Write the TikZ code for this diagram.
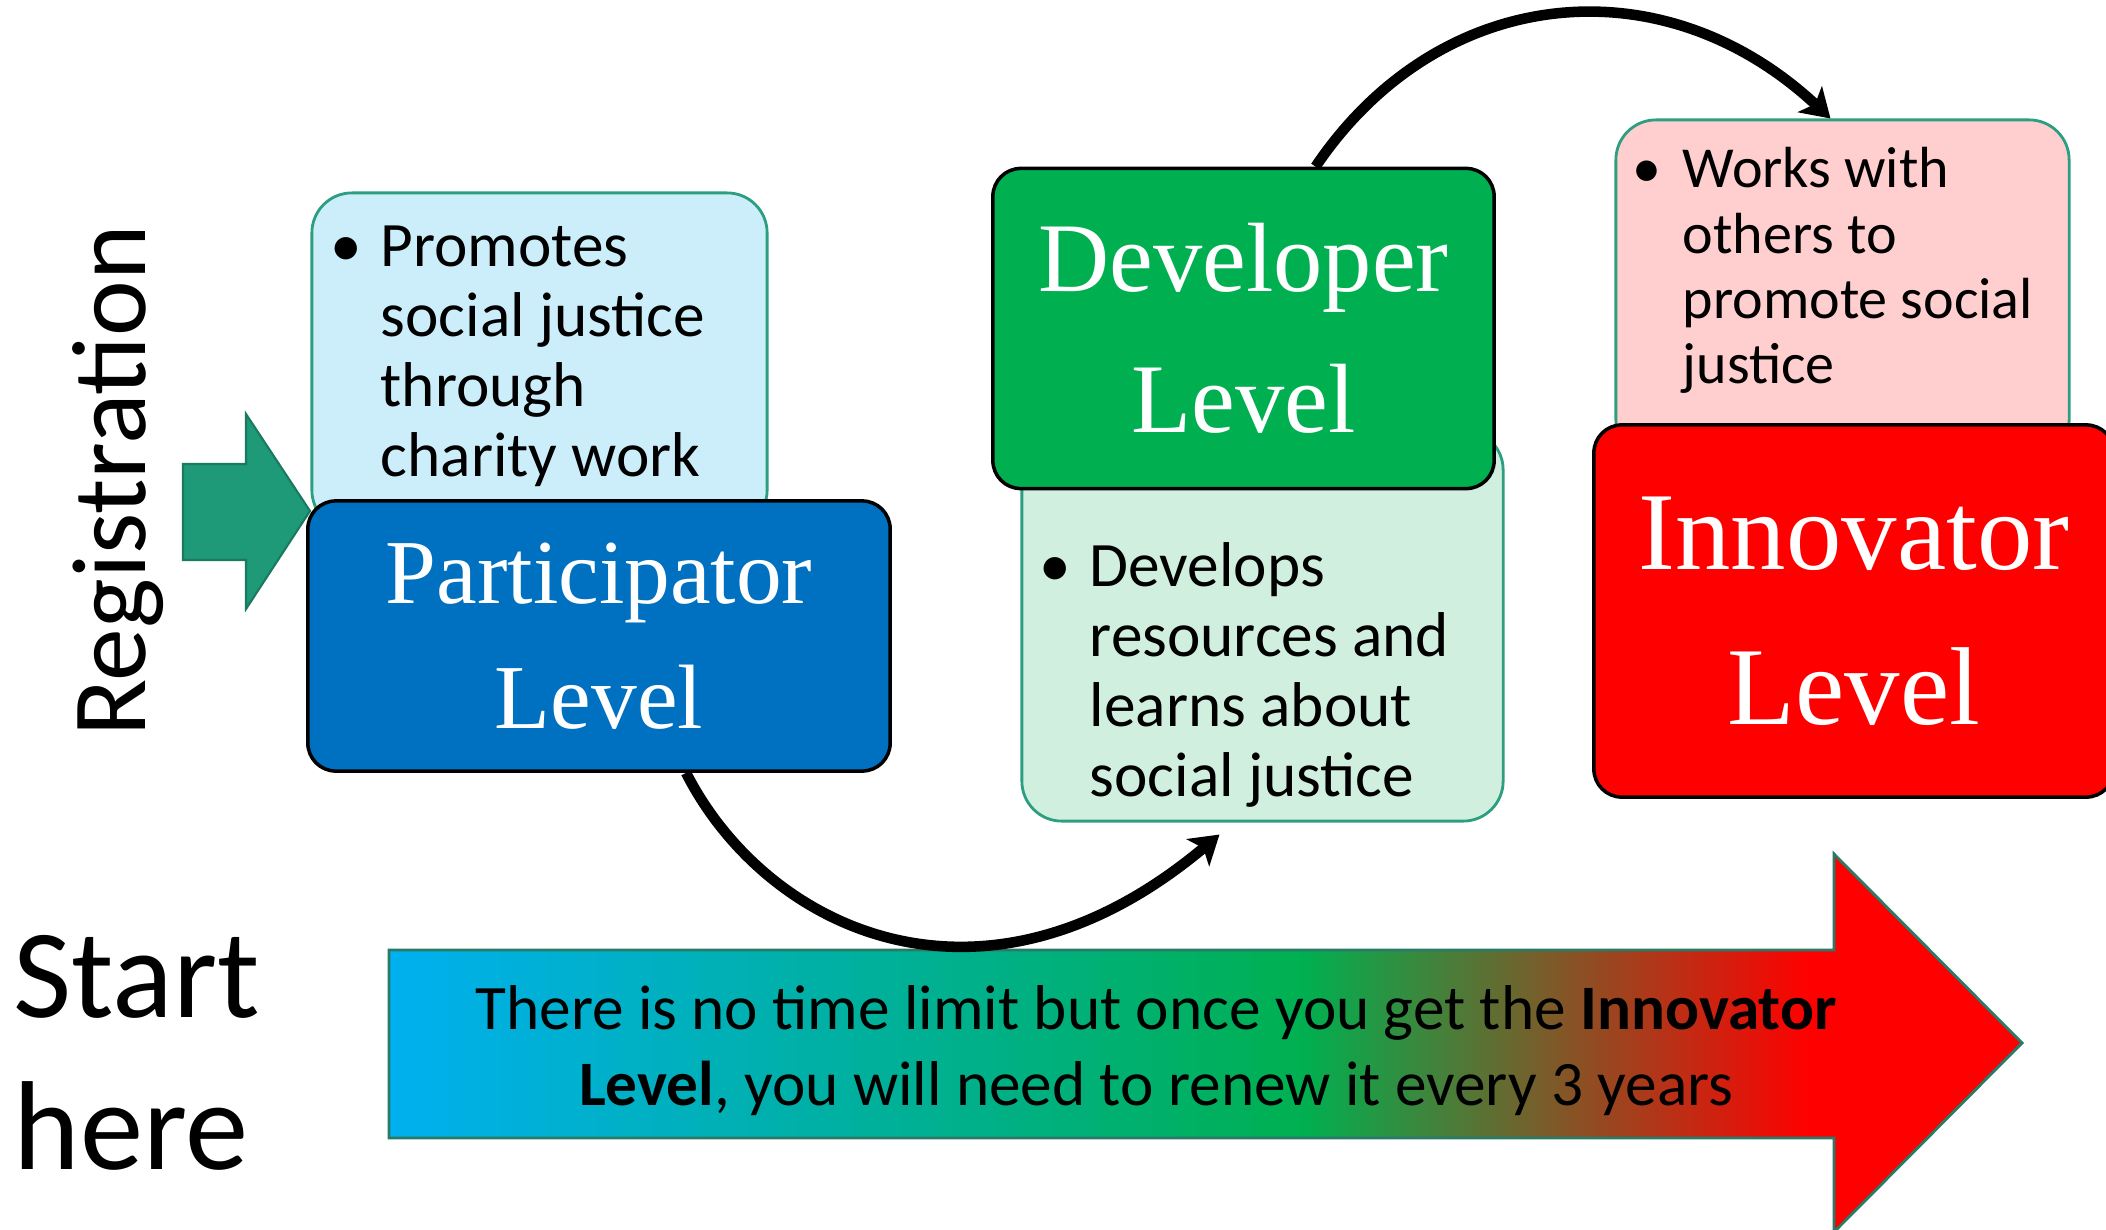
\documentclass[tikz,border=0pt]{standalone}
\usepackage{fontspec}
\setmainfont{Carlito}
\newfontfamily\lvlfont{Liberation Serif}
\usetikzlibrary{arrows.meta}

\definecolor{partblue}{HTML}{0070C0}
\definecolor{devgreen}{HTML}{00B050}
\definecolor{innored}{HTML}{FF0000}
\definecolor{promofill}{HTML}{CCEEFA}
\definecolor{devfill}{HTML}{D0EFDF}
\definecolor{innofill}{HTML}{FFCFCF}
\definecolor{noteedge}{HTML}{2E9E80}
\definecolor{regfill}{HTML}{1E9A78}
\definecolor{regedge}{HTML}{197A5F}
\definecolor{barblue}{HTML}{00B0F0}
\definecolor{baredge}{HTML}{2A7A68}

\pgfdeclarehorizontalshading{levelbar}{100bp}{color(0bp)=(barblue); color(25bp)=(barblue); color(53bp)=(devgreen); color(68.5bp)=(innored); color(100bp)=(innored)}

\tikzstyle{levelbox}=[draw=black, line width=1pt, rounded corners=2.8mm, text=white, align=center, inner sep=0pt]
\tikzstyle{notebox}=[draw=noteedge, line width=0.8pt, rounded corners=4mm]
\tikzstyle{notetext}=[anchor=north west, inner sep=0pt, align=left, font=\fontsize{18}{19.9}\selectfont]
\tikzstyle{flowarrow}=[line width=3pt, -{Stealth[length=8pt,width=10pt,inset=2pt]}]

\newcommand{\bul}{\makebox[5mm][l]{\textbullet}}
\newcommand{\ind}{\hspace*{5mm}}

\begin{document}
\begin{tikzpicture}[x=0.01cm, y=0.01cm]
            \useasboundingbox (0,0) rectangle (2106,1229);
            % participator
            \node[notebox, fill=promofill, minimum width=45.5mm, minimum height=33.7mm] at (539.5,867.5) (promobox) {};
            \node[notetext] at (330,1004) (promotext) {\bul Promotes\\\ind social justice\\\ind through\\\ind charity work};
            \node[levelbox, fill=partblue, minimum width=58.2mm, minimum height=27mm, font=\lvlfont\fontsize{26}{35.5}\selectfont] at (599,593) (part) {Participator\\Level};
            % developer
            \node[notebox, fill=devfill, minimum width=48.1mm, minimum height=39.1mm] at (1262.5,603.5) (devbox) {};
            \node[notetext] at (1039,687) (devtext) {\bul Develops\\\ind resources and\\\ind learns about\\\ind social justice};
            \node[levelbox, fill=devgreen, minimum width=50.1mm, minimum height=32mm, font=\lvlfont\fontsize{28}{40}\selectfont] at (1243.5,900.5) (dev) {Developer\\Level};
            % innovator
            \node[notebox, fill=innofill, minimum width=45.3mm, minimum height=34mm] at (1842.5,939) (innobox) {};
            \node[notetext, font=\fontsize{16.5}{18.5}\selectfont] at (1632,1082) (innotext) {\bul Works with\\\ind others to\\\ind promote social\\\ind justice};
            \node[levelbox, fill=innored, minimum width=52mm, minimum height=37.2mm, font=\lvlfont\fontsize{31.5}{44}\selectfont] at (1854,618) (inno) {Innovator\\Level};
            % registration arrow
            \path[fill=regfill, draw=regedge, line width=0.6pt] (183,765) -- (246,765) -- (246,815) -- (310,718) -- (246,620) -- (246,669) -- (183,669) -- cycle;
            \node[rotate=90, anchor=base, inner sep=0pt, font=\fontsize{30}{36}\selectfont] at (145,748) (reg) {Registration};
            \node[anchor=north west, inner sep=0pt, align=left, font=\fontsize{36}{43}\selectfont] at (13,294) (start) {Start\\here};
            % time bar
            \path[shade, shading=levelbar, draw=baredge, line width=0.8pt] (389,279) -- (1834,279) -- (1834,375) -- (2022,186) -- (1834,-3) -- (1834,91) -- (389,91) -- cycle;
            \node[align=center, font=\fontsize{18}{21.6}\selectfont] at (1156,178) (bar) {There is no time limit but once you get the \textbf{Innovator}\\\textbf{Level}, you will need to renew it every 3 years};
            % moves
            \draw ([xshift=8.7mm]part.south) edge[flowarrow, out=-63, in=220, out distance=1.75cm, in distance=3.1cm] ([xshift=-4.3mm,yshift=-1.2mm]devbox.south);
            \draw ([xshift=7.2mm]dev.north) edge[flowarrow, out=56, in=137, out distance=2.2cm, in distance=2.3cm] ([xshift=-1.2mm]innobox.north);
        \end{tikzpicture}
\end{document}
